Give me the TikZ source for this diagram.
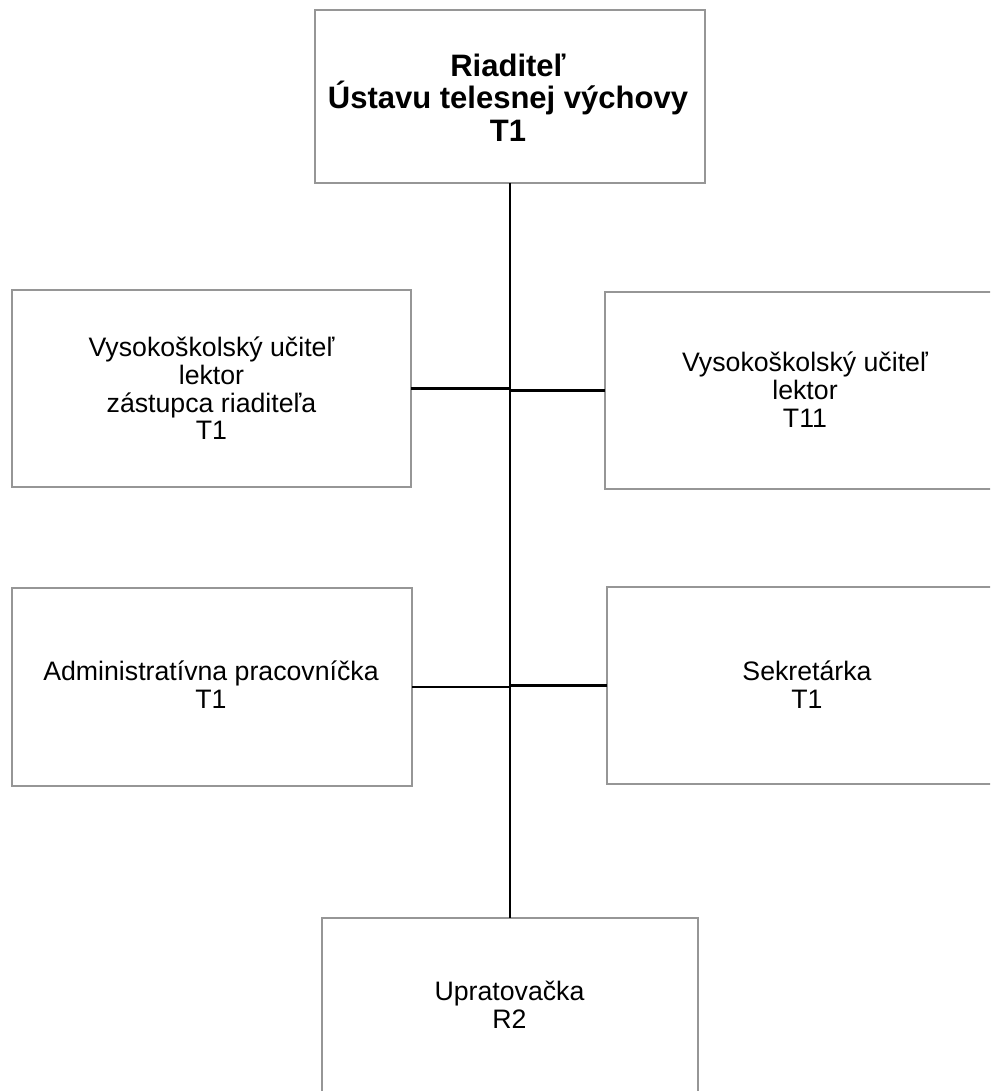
\documentclass[tikz,border=0pt]{standalone}
\usepackage{fontspec}
\setmainfont{Liberation Sans}
\definecolor{boxgray}{RGB}{150,150,150}
\newcommand{\tlrule}{\rule{0pt}{25pt}}
\newcommand{\nrule}{\rule{0pt}{21pt}}
\begin{document}
\begin{tikzpicture}[x=1pt,y=-1pt,
  orgbox/.style={draw=boxgray,line width=1.6pt,fill=white,rectangle,inner sep=0pt,outer sep=0pt},
  normtext/.style={anchor=north,inner sep=0pt,align=center,font=\fontsize{26.7}{27.6}\selectfont},
  titletext/.style={anchor=north,inner sep=0pt,align=center,font=\fontsize{31}{32.5}\selectfont\bfseries},
  trunk/.style={draw=black,line width=2.8pt},
  branch/.style={draw=black,line width=2.2pt}]
\useasboundingbox (0,0) rectangle (990,1091);
\fill[white] (0,0) rectangle (990,1091);
\begin{scope}
\clip (0,0) rectangle (990,1091);
% boxes
\node[orgbox,minimum width=390pt,minimum height=173pt] (top) at (510,96.5) {};
\node[orgbox,minimum width=399pt,minimum height=197pt] (l1) at (211.5,388.5) {};
\node[orgbox,minimum width=400pt,minimum height=197pt] (r1) at (805,390.5) {};
\node[orgbox,minimum width=400pt,minimum height=198pt] (l2) at (212,687) {};
\node[orgbox,minimum width=400pt,minimum height=197pt] (r2) at (807,685.5) {};
\node[orgbox,minimum width=376pt,minimum height=197pt] (bot) at (510,1016.5) {};
% connectors
\draw[trunk] (top.south) -- (bot.north);
\draw[branch] (l1.east) -- (l1.east -| top.south);
\draw[branch] (r1.west) -- (r1.west -| top.south);
\draw[branch] (l2.east) -- (l2.east -| top.south);
\draw[branch] (r2.west) -- (r2.west -| top.south);
% texts
\node[titletext] (ttop) at (508,51) {\tlrule Riaditeľ\\Ústavu telesnej výchovy\\T1};
\node[normtext] (tl1) at (211.5,335.7) {\nrule Vysokoškolský učiteľ\\lektor\\zástupca riaditeľa\\T1};
\node[normtext] (tr1) at (805,350.7) {\nrule Vysokoškolský učiteľ\\lektor\\T11};
\node[normtext] (tl2) at (211,659.7) {\nrule Administratívna pracovníčka\\T1};
\node[normtext] (tr2) at (807,659.7) {\nrule Sekretárka\\T1};
\node[normtext] (tbot) at (509.5,979.7) {\nrule Upratovačka\\R2};
\end{scope}
\end{tikzpicture}
\end{document}
